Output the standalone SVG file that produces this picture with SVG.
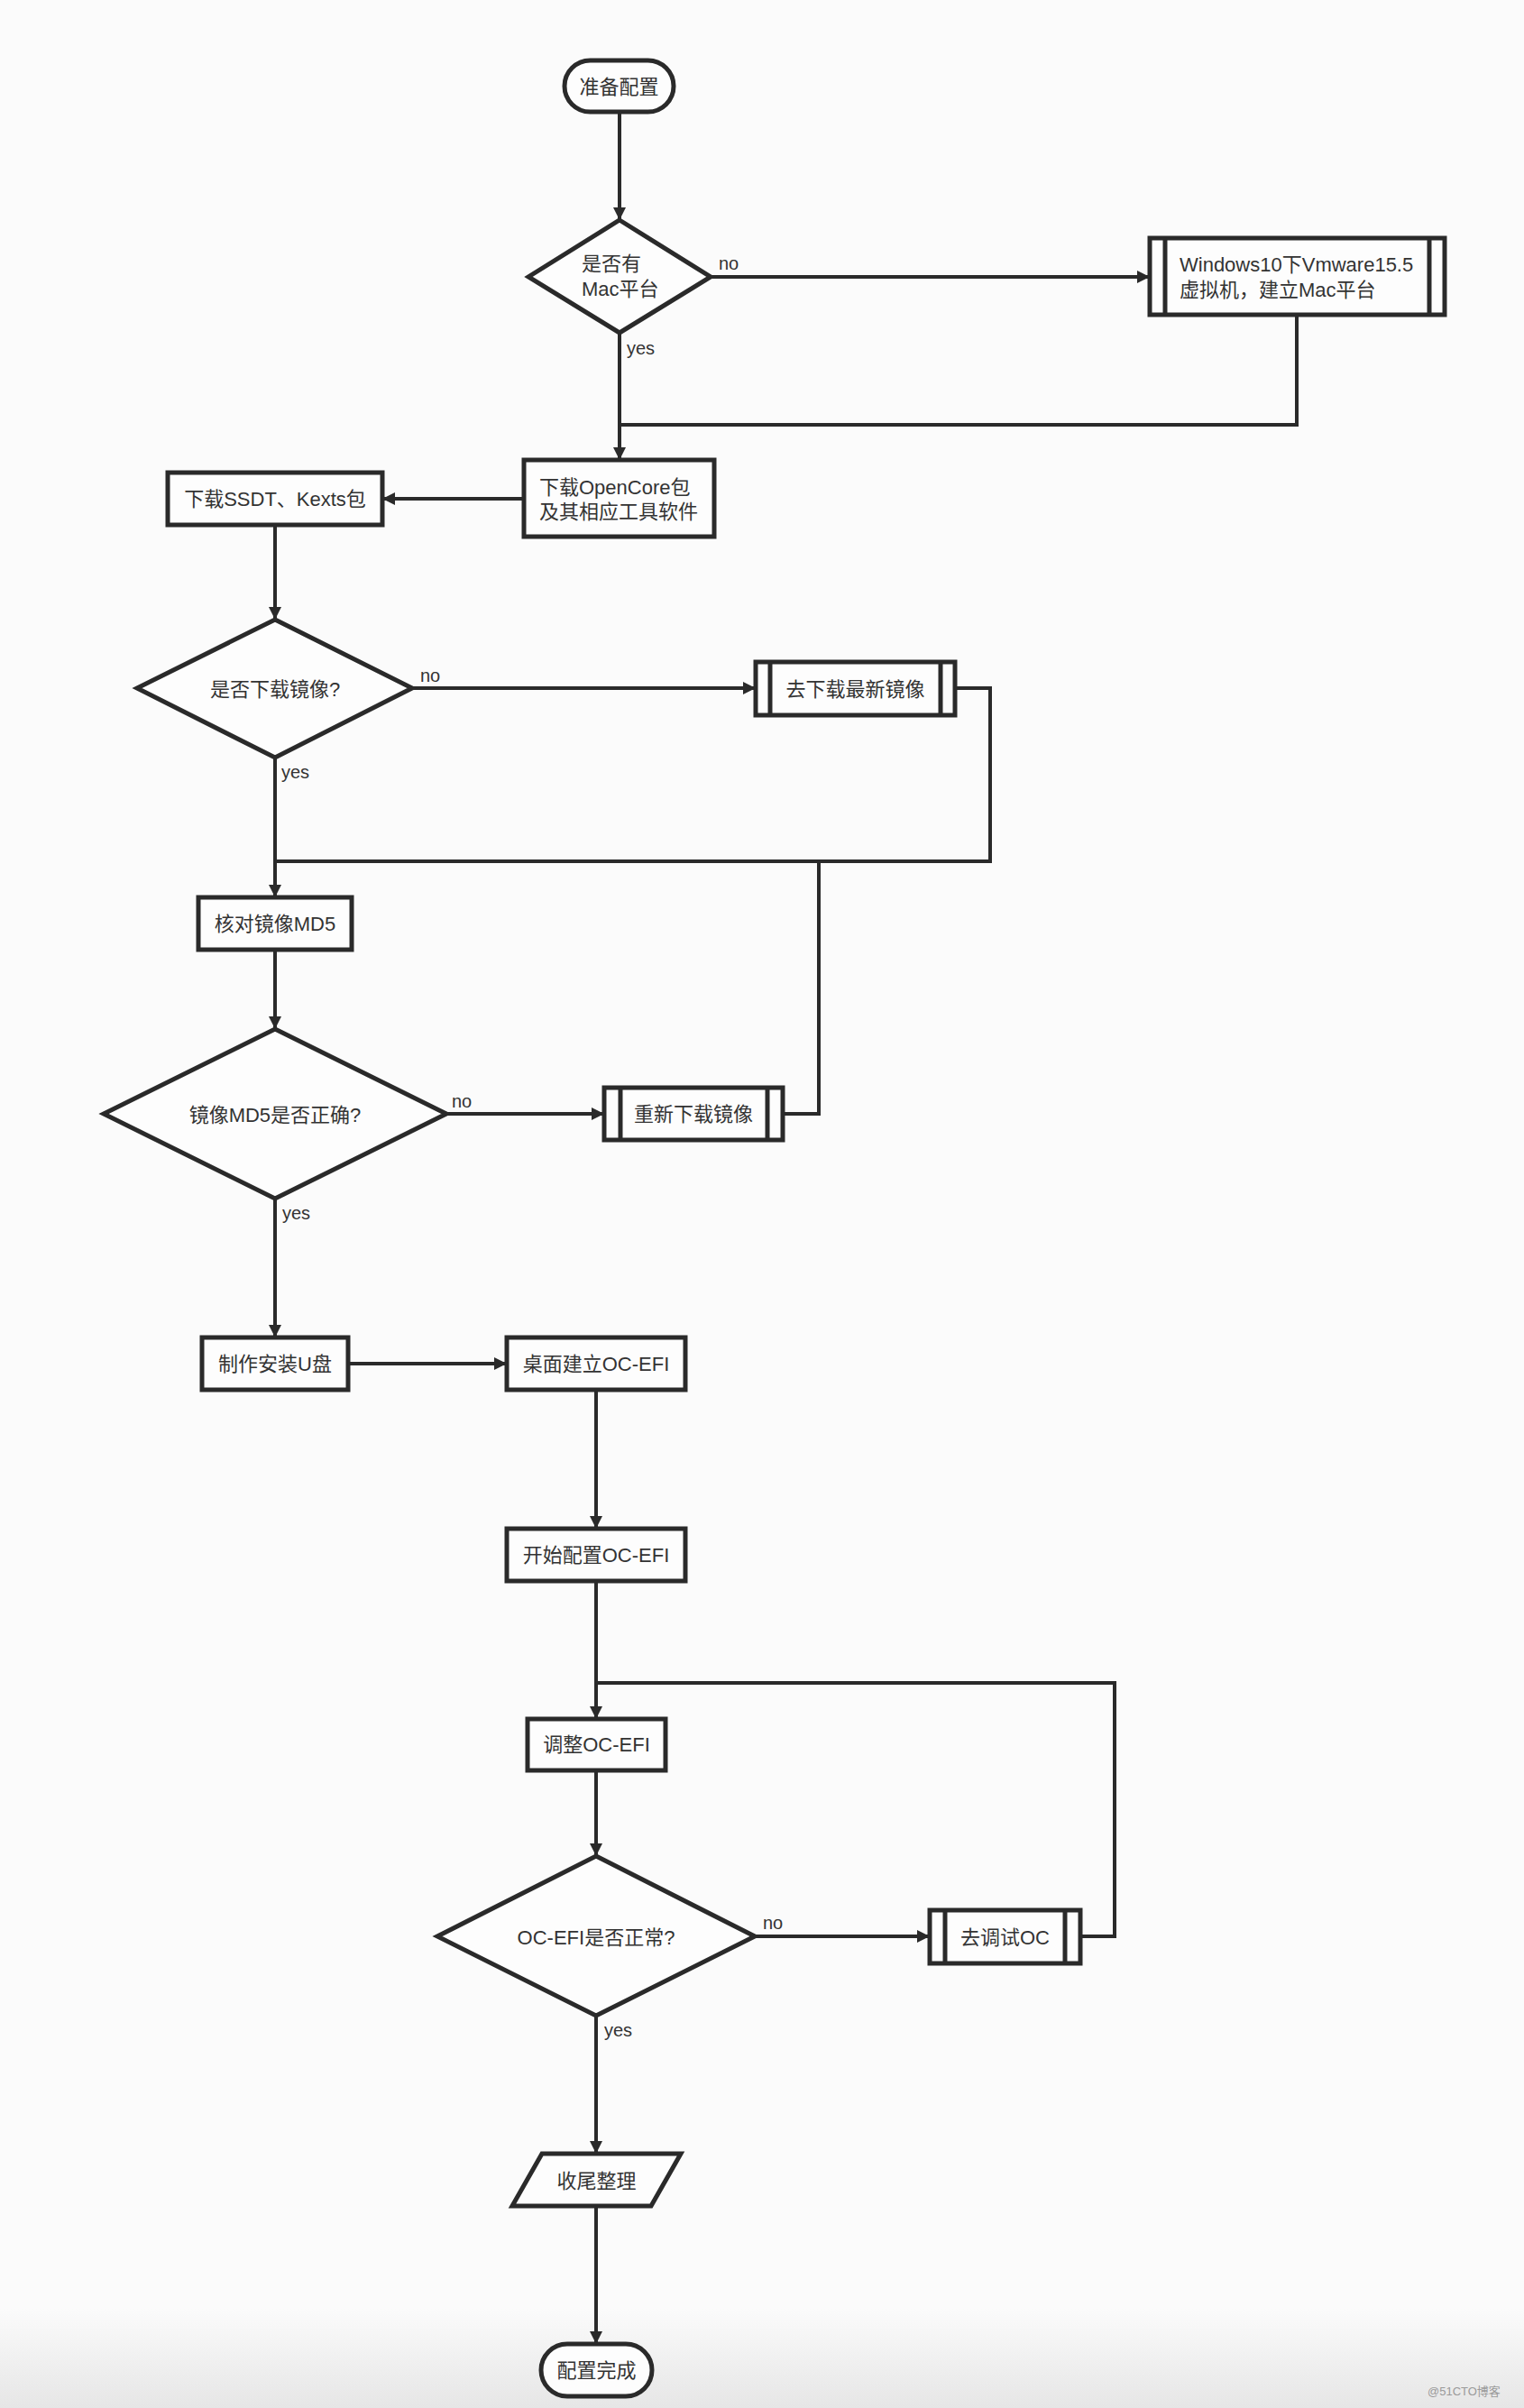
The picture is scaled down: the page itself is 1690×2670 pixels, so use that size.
<svg xmlns="http://www.w3.org/2000/svg" width="1690" height="2670" viewBox="0 0 1690 2670">
<defs>
<linearGradient id="bg" x1="0" y1="0" x2="0" y2="1">
<stop offset="0" stop-color="#fbfbfb"/>
<stop offset="1" stop-color="#e6e6e6"/>
</linearGradient>
<marker id="arr" markerUnits="userSpaceOnUse" markerWidth="16" markerHeight="14" refX="14" refY="7" orient="auto">
<path d="M0,0 L14,7 L0,14 z" fill="#2a2a2a"/>
</marker>
<style>
.n{fill:#fdfdfd;stroke:#2a2a2a;stroke-width:5}
.in{stroke:#2a2a2a;stroke-width:5}
.c{fill:none;stroke:#2a2a2a;stroke-width:4}
.a{marker-end:url(#arr)}
.t{font-family:"Liberation Sans","Noto Sans CJK SC",sans-serif;font-size:22px;fill:#333}
.m{text-anchor:middle;dominant-baseline:central}
.l{font-family:"Liberation Sans","Noto Sans CJK SC",sans-serif;font-size:20px;fill:#333}
</style>
</defs>
<rect width="1690" height="2670" fill="#fbfbfb"/>
<rect y="2560" width="1690" height="110" fill="url(#bg)"/>

<g id="connectors">
<path class="c a" d="M687,126 V244"/>
<path class="c a" d="M788,307 H1275"/>
<path class="c a" d="M687,369 V510"/>
<path class="c" d="M1438,349 V471 H687"/>
<path class="c a" d="M581,553 H424"/>
<path class="c a" d="M305,582 V687"/>
<path class="c a" d="M457,763 H838"/>
<path class="c" d="M1059,763 H1098 V955 H305"/>
<path class="c a" d="M305,840 V995"/>
<path class="c a" d="M305,1053 V1141"/>
<path class="c a" d="M495,1235 H670"/>
<path class="c" d="M868,1235 H908 V955"/>
<path class="c a" d="M305,1329 V1483"/>
<path class="c a" d="M386,1512 H562"/>
<path class="c a" d="M661,1541 V1695"/>
<path class="c a" d="M661,1753 V1906"/>
<path class="c" d="M1198,2147 H1236 V1866 H661"/>
<path class="c a" d="M661,1963 V2058"/>
<path class="c a" d="M837,2147 H1031"/>
<path class="c a" d="M661,2235 V2388"/>
<path class="c a" d="M661,2446 V2599"/>
<text class="l" x="797" y="299">no</text>
<text class="l" x="695" y="393">yes</text>
<text class="l" x="466" y="756">no</text>
<text class="l" x="312" y="863">yes</text>
<text class="l" x="501" y="1228">no</text>
<text class="l" x="313" y="1352">yes</text>
<text class="l" x="846" y="2139">no</text>
<text class="l" x="670" y="2258">yes</text>
</g>

<g id="start">
<rect class="n" x="626" y="67" width="121" height="57" rx="28.5"/>
<text class="t m" x="686.5" y="96">准备配置</text>
</g>

<g id="d1">
<polygon class="n" points="687,244 788,307 687,369 586,307"/>
<text class="t" x="645" y="300">是否有</text>
<text class="t" x="645" y="328">Mac平台</text>
</g>

<g id="vm">
<rect class="n" x="1275" y="264" width="327" height="85"/>
<line class="in" x1="1292" y1="264" x2="1292" y2="349"/>
<line class="in" x1="1585" y1="264" x2="1585" y2="349"/>
<text class="t" x="1308" y="301">Windows10下Vmware15.5</text>
<text class="t" x="1308" y="329">虚拟机，建立Mac平台</text>
</g>

<g id="opencore">
<rect class="n" x="581" y="510" width="211" height="85"/>
<text class="t" x="598" y="548">下载OpenCore包</text>
<text class="t" x="598" y="575">及其相应工具软件</text>
</g>

<g id="ssdt">
<rect class="n" x="186" y="524" width="238" height="58"/>
<text class="t m" x="305" y="553">下载SSDT、Kexts包</text>
</g>

<g id="d2">
<polygon class="n" points="305,687 457,763 305,840 152,763"/>
<text class="t m" x="305" y="764">是否下载镜像?</text>
</g>

<g id="dl">
<rect class="n" x="838" y="734" width="221" height="59"/>
<line class="in" x1="854" y1="734" x2="854" y2="793"/>
<line class="in" x1="1043" y1="734" x2="1043" y2="793"/>
<text class="t m" x="948.5" y="764">去下载最新镜像</text>
</g>

<g id="md5">
<rect class="n" x="220" y="995" width="170" height="58"/>
<text class="t m" x="305" y="1024">核对镜像MD5</text>
</g>

<g id="d3">
<polygon class="n" points="305,1141 495,1235 305,1329 115,1235"/>
<text class="t m" x="305" y="1236">镜像MD5是否正确?</text>
</g>

<g id="redl">
<rect class="n" x="670" y="1206" width="198" height="58"/>
<line class="in" x1="688" y1="1206" x2="688" y2="1264"/>
<line class="in" x1="851" y1="1206" x2="851" y2="1264"/>
<text class="t m" x="769" y="1235">重新下载镜像</text>
</g>

<g id="usb">
<rect class="n" x="224" y="1483" width="162" height="58"/>
<text class="t m" x="305" y="1512">制作安装U盘</text>
</g>

<g id="efi1">
<rect class="n" x="562" y="1483" width="198" height="58"/>
<text class="t m" x="661" y="1512">桌面建立OC-EFI</text>
</g>

<g id="efi2">
<rect class="n" x="562" y="1695" width="198" height="58"/>
<text class="t m" x="661" y="1724">开始配置OC-EFI</text>
</g>

<g id="efi3">
<rect class="n" x="585" y="1906" width="153" height="57"/>
<text class="t m" x="661.5" y="1934.5">调整OC-EFI</text>
</g>

<g id="d4">
<polygon class="n" points="661,2058 837,2147 661,2235 485,2147"/>
<text class="t m" x="661" y="2148">OC-EFI是否正常?</text>
</g>

<g id="debug">
<rect class="n" x="1031" y="2118" width="167" height="59"/>
<line class="in" x1="1048" y1="2118" x2="1048" y2="2177"/>
<line class="in" x1="1181" y1="2118" x2="1181" y2="2177"/>
<text class="t m" x="1114.5" y="2148">去调试OC</text>
</g>

<g id="finish">
<polygon class="n" points="601,2388 755,2388 722,2446 568,2446"/>
<text class="t m" x="661.5" y="2418">收尾整理</text>
</g>

<g id="end">
<rect class="n" x="600" y="2599" width="123" height="58" rx="29"/>
<text class="t m" x="661.5" y="2628">配置完成</text>
</g>

<text x="1583" y="2656" font-family="'Liberation Sans','Noto Sans CJK SC',sans-serif" font-size="13" fill="#9a9a9a">@51CTO博客</text>
</svg>
